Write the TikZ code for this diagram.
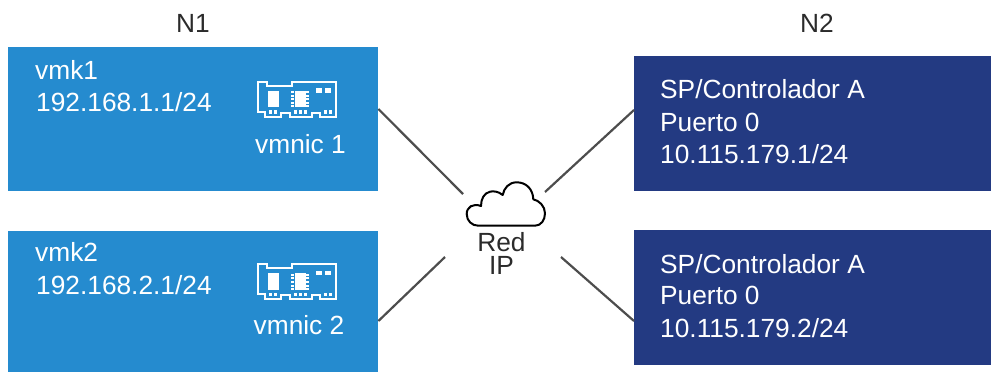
\documentclass[tikz,border=0pt]{standalone}
\usepackage{fontspec}
\setmainfont{Liberation Sans}
\definecolor{vmblue}{HTML}{258BCF}
\definecolor{navy}{HTML}{233A82}
\definecolor{txt}{HTML}{2B2B2B}
\definecolor{lin}{HTML}{4D4D4D}
\tikzset{
  x=1pt,y=-1pt,
  bluebox/.style={fill=vmblue,draw=none,inner sep=0pt,minimum width=370pt,anchor=north west},
  navybox/.style={fill=navy,draw=none,inner sep=0pt,minimum width=357pt,anchor=north west},
  wtext/.style={text=white,font=\fontsize{26.3}{32}\selectfont,anchor=base west,inner sep=0pt},
  dtext/.style={text=txt,font=\fontsize{26.3}{32}\selectfont,anchor=base,inner sep=0pt},
  link/.style={draw=lin,line width=2.2pt},
}
\newcommand{\nicicon}[1]{%
 \begin{scope}[shift={(#1)},x=0.3333pt,y=-0.3333pt]
  \draw[white,line width=2.1pt,fill=none,miter limit=4] (55,65)--(82,65)--(82,77)--(155,77)--(155,65)--(288,65)--(288,170)--(240,170)--(240,158)--(215,158)--(215,170)--(150,170)--(150,158)--(122,158)--(122,170)--(75,170)--(75,155)--(55,155)--cycle;
  \fill[white] (84,92) rectangle (117,142);
  \fill[white] (165,92) rectangle (197,142);
  \foreach \y in {93,104,115,126,136}{\fill[white] (153,\y) rectangle (162,\y+6);\fill[white] (199,\y) rectangle (208,\y+6);}
  \fill[white] (228,85) rectangle (245,98);
  \fill[white] (256,85) rectangle (273,98);
  \foreach \x in {87,102,162,177,192,252,267}{\fill[white] (\x,150) rectangle (\x+10,161);}
 \end{scope}}
\begin{document}
\begin{tikzpicture}
\useasboundingbox (0,0) rectangle (991,373);
\node[bluebox,minimum height=144pt] (b1) at (8,47) {};
\node[bluebox,minimum height=141pt] (b2) at (8,231) {};
\node[navybox,minimum height=135pt] (c1) at (634,56) {};
\node[navybox,minimum height=135pt] (c2) at (634,230) {};
\node[dtext] (n1) at (193,32) {N1};
\node[dtext] (n2) at (817,32) {N2};
\node[wtext] (t1a) at (35,79) {vmk1};
\node[wtext] (t1b) at (36,111) {192.168.1.1/24};
\node[wtext] (t1c) at (255,153) {vmnic 1};
\node[wtext] (t2a) at (35,261) {vmk2};
\node[wtext] (t2b) at (36,294) {192.168.2.1/24};
\node[wtext] (t2c) at (253.5,334) {vmnic 2};
\node[wtext] (r1a) at (660,98) {SP/Controlador A};
\node[wtext] (r1b) at (660,131) {Puerto 0};
\node[wtext] (r1c) at (660,163) {10.115.179.1/24};
\node[wtext] (r2a) at (660,273) {SP/Controlador A};
\node[wtext] (r2b) at (660,304) {Puerto 0};
\node[wtext] (r2c) at (660,337) {10.115.179.2/24};
\node[dtext,anchor=base,align=center,font=\fontsize{26.3}{23}\selectfont] (red) at (501.5,274) {Red\\IP};
\nicicon{240,60}
\nicicon{240,242.6}
\draw[black,line width=2pt,line join=round]
  (478.3,225.7)--(535,225.7)
  .. controls (541,225.7) and (545,220) .. (545,213.3)
  .. controls (545,206) and (539,200.5) .. (533.3,199.3)
  .. controls (533,189) and (526,182.3) .. (516.7,182.3)
  .. controls (509,182.3) and (504,188) .. (502.7,195)
  .. controls (498,191) and (493,191) .. (490,191.7)
  .. controls (484,193) and (481,199) .. (481,206)
  .. controls (473,203) and (466.7,207) .. (466.7,214)
  .. controls (466.7,221) and (472,225.7) .. (478.3,225.7) -- cycle;
\coordinate (p1) at (463,194);
\coordinate (p2) at (445,257);
\coordinate (p3) at (545,192);
\coordinate (p4) at (561,257);
\draw[link] (b1.east |- 0,109) -- (p1);
\draw[link] (b2.east |- 0,321) -- (p2);
\draw[link] (c1.west |- 0,110) -- (p3);
\draw[link] (c2.west |- 0,321) -- (p4);
\end{tikzpicture}
\end{document}
